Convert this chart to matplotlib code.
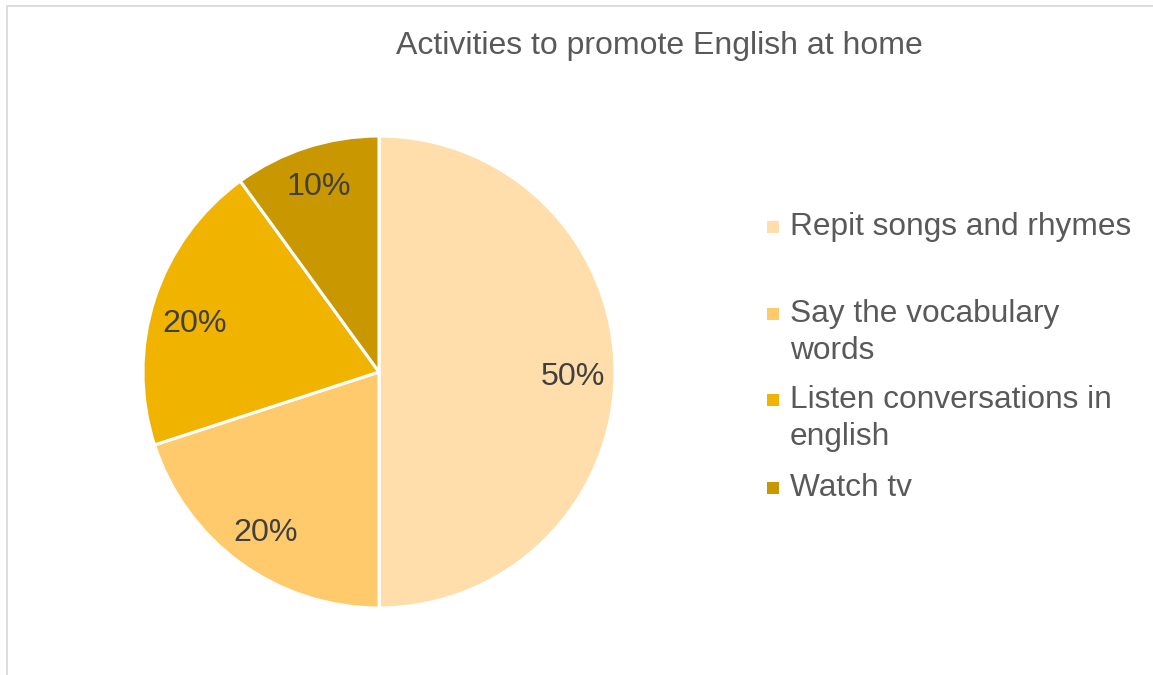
import matplotlib.pyplot as plt
from matplotlib.patches import Rectangle

# survey results
activities = ["Repit songs and rhymes", "Say the vocabulary\nwords",
              "Listen conversations in\nenglish", "Watch tv"]
shares = [50, 20, 20, 10]
colors = ["#FFDEAB", "#FFCA6B", "#F0B300", "#C99700"]

W, H = 1153, 675
plt.rcParams['font.family'] = ['Liberation Sans', 'DejaVu Sans']
fig = plt.figure(figsize=(W / 100, H / 100), dpi=100)

# pie: centre (379, 372) px, radius 236 px
cx, cy, r = 379, 372, 236
pad = 1.01
ax = fig.add_axes([(cx - r * pad) / W, (H - cy - r * pad) / H,
                   2 * r * pad / W, 2 * r * pad / H])
wedges, texts, autotexts = ax.pie(
    shares, colors=colors, startangle=90, counterclock=False,
    autopct=lambda p: f"{p:.0f}%", pctdistance=0.82,
    wedgeprops=dict(edgecolor="white", linewidth=2.2),
    textprops=dict(fontsize=23.2, color="#404040"))
ax.set_xlim(-pad, pad)
ax.set_ylim(-pad, pad)

# nudge the percentage labels a little lower inside their slices
label_drop = [0.022, 0.02, 0.05, -0.004]
for t, d in zip(autotexts, label_drop):
    x, y = t.get_position()
    t.set_position((x, y - d))

fig.text(659 / W, 1 - 46 / H, "Activities to promote English at home",
         ha="center", va="center", fontsize=23, color="#595959")

# legend drawn by hand: square marker + wrapped label
baselines = [235, 322, 408, 496]
line_gap = 37
for label, color, base in zip(activities, colors, baselines):
    fig.patches.append(Rectangle((767 / W, 1 - (base - 2) / H), 12 / W, 12 / H,
                                 transform=fig.transFigure, facecolor=color,
                                 edgecolor="none"))
    for i, line in enumerate(label.split("\n")):
        fig.text(790 / W, 1 - (base + i * line_gap) / H, line, ha="left",
                 va="baseline", fontsize=22.8, color="#595959")

# chart frame
fig.patches.append(Rectangle((7 / W, -0.05), 1.1, 1.05 - 6 / H,
                             transform=fig.transFigure, fill=False,
                             edgecolor="#D9D9D9", linewidth=1.3))

fig.savefig("out.png", dpi=100)
